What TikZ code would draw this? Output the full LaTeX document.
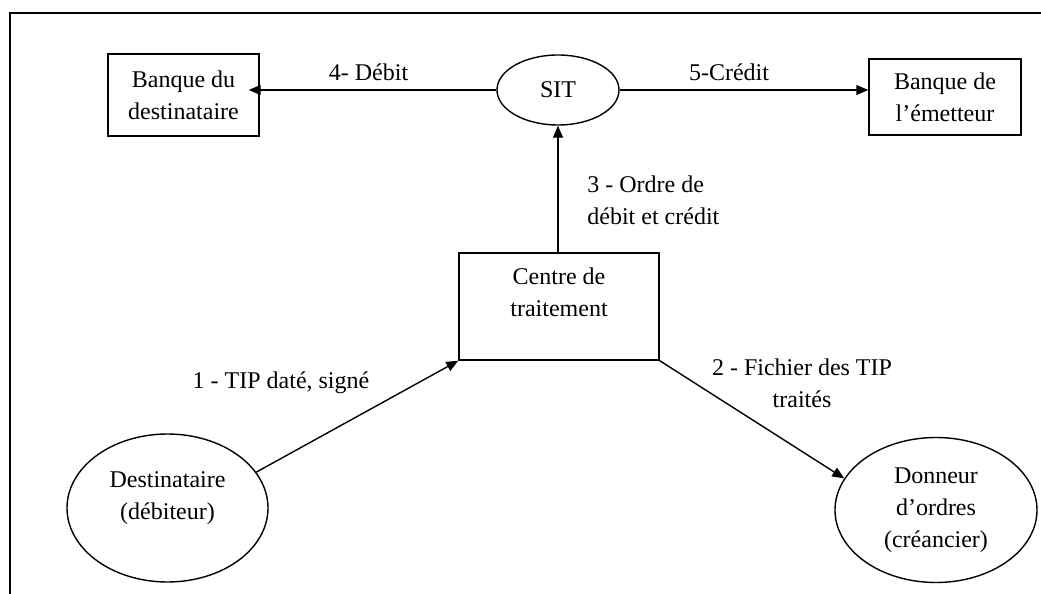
\documentclass[tikz,border=0pt]{standalone}
\usepackage{fontspec}
\setmainfont{Liberation Serif}
\usetikzlibrary{shapes.geometric,arrows.meta}
\begin{document}
\begin{tikzpicture}[x=0.5pt,y=-0.5pt,
	every node/.style={font=\fontsize{12}{16}\selectfont,align=center},
	boite/.style={draw,line width=0.7pt,rectangle,inner sep=0pt},
	bulle/.style={draw,line width=0.7pt,ellipse,inner sep=0pt},
	fleche/.style={-{Triangle[length=6pt,width=5pt]},line width=0.7pt}]
		\useasboundingbox (0,0) rectangle (1041,594);
		\draw[line width=0.9pt] (10,594) -- (10,13) -- (1041,13);
		\node[boite,minimum width=75.5pt,minimum height=41pt] (bdest) at (183.5,95) {Banque du\\destinataire};
		\node[boite,minimum width=76pt,minimum height=38pt] (bemet) at (945,97) {Banque de\\l’émetteur};
		\node[bulle,minimum width=61pt,minimum height=35pt] (sit) at (558,90) {SIT};
		\node[boite,minimum width=100pt,minimum height=53.5pt] (centre) at (559,306.5) {};
		\node (centretxt) at (559,292) {Centre de\\traitement};
		\node[bulle,minimum width=100.5pt,minimum height=74pt] (dest) at (167.5,508) {};
		\node (desttxt) at (167.5,498) {Destinataire\\(débiteur)};
		\node[bulle,minimum width=101pt,minimum height=72.5pt] (donneur) at (936,510) {Donneur\\d’ordres\\(créancier)};
		\draw[fleche,shorten >=-5.5pt] (sit.west) -- (sit.west -| bdest.east) node[pos=0.54,above=1pt] {4- Débit};
		\draw[fleche] (sit.east) -- (sit.east -| bemet.west) node[pos=0.44,above=1pt] {5-Crédit};
		\draw[fleche] (sit.south |- centre.north) -- (sit.south) node[pos=0.41,right=11pt,align=left] {3 - Ordre de\\débit et crédit};
		\draw[fleche] (dest.22) -- (centre.south west);
		\draw[fleche] (centre.south east) -- (donneur.161);
		\node (lbla) at (281,383) {1 - TIP daté, signé};
		\node (lblb) at (802,383) {2 - Fichier des TIP\\traités};
	\end{tikzpicture}
\end{document}
